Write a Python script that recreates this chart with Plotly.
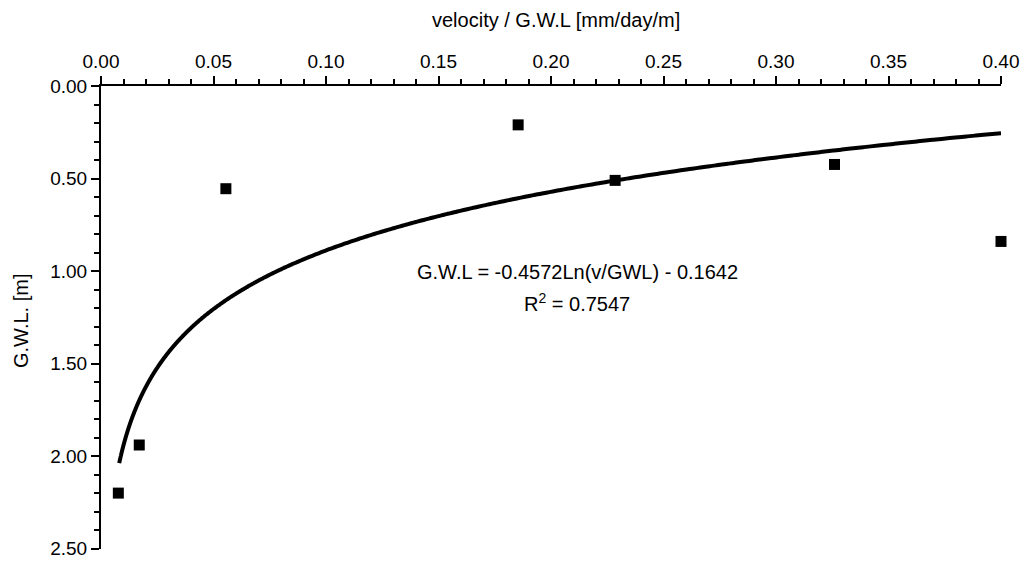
import numpy as np
import plotly.graph_objects as go

# Observed points: velocity / groundwater level vs groundwater level
velocity_ratio = [0.0077, 0.017, 0.0555, 0.1854, 0.2285, 0.326, 0.400]
gwl = [2.20, 1.94, 0.555, 0.21, 0.51, 0.424, 0.84]

# Logarithmic trend line: G.W.L = a*ln(v/GWL) + b
fit_a = -0.4572
fit_b = -0.1642
fit_r2 = 0.7547
fit_x_start = 0.0081
fit_x_end = 0.40

x_ticks = [0.00, 0.05, 0.10, 0.15, 0.20, 0.25, 0.30, 0.35, 0.40]
y_ticks = [0.00, 0.50, 1.00, 1.50, 2.00, 2.50]

fit_x = np.geomspace(fit_x_start, fit_x_end, 400)
fit_y = fit_a * np.log(fit_x) + fit_b

FONT = "Liberation Sans, Arial, sans-serif"

# plot area in pixels
L, R, T, B = 101, 1001, 86, 549
PW, PH = R - L, B - T


def px(x):
    return (x - L) / PW


def py(y):
    return 1 - (y - T) / PH


fig = go.Figure()
fig.add_trace(go.Scatter(
    x=fit_x, y=fit_y, mode="lines",
    line=dict(color="black", width=4, simplify=False, shape="spline"),
    showlegend=False, hoverinfo="skip",
))
fig.add_trace(go.Scatter(
    x=velocity_ratio, y=gwl, mode="markers",
    marker=dict(symbol="square", size=11, color="black"),
    showlegend=False, cliponaxis=False,
))

axis_common = dict(
    showline=True, linecolor="black", linewidth=2, mirror=False,
    ticks="outside", ticklen=8, tickwidth=2, tickcolor="black",
    showgrid=False, zeroline=False, tickformat=".2f",
    tickfont=dict(size=19), ticklabeloverflow="allow", automargin=False,
)

fig.update_layout(
    width=1035, height=561,
    margin=dict(l=L, r=1035 - R, t=T, b=561 - B, autoexpand=False),
    paper_bgcolor="white", plot_bgcolor="white",
    font=dict(family=FONT, size=19, color="black"),
    xaxis=dict(
        side="top", range=[0, 0.40], tickvals=x_ticks,
        minor=dict(dtick=0.01, ticks="outside", ticklen=5, tickwidth=2, tickcolor="black"),
        **axis_common,
    ),
    yaxis=dict(
        range=[2.502, 0], tickvals=y_ticks,
        minor=dict(dtick=0.1, ticks="outside", ticklen=5, tickwidth=2, tickcolor="black"),
        **axis_common,
    ),
    annotations=[
        dict(text="velocity / G.W.L [mm/day/m]", xref="paper", yref="paper",
             x=px(556), y=py(20), showarrow=False,
             xanchor="center", yanchor="middle", font=dict(size=20)),
        dict(text="G.W.L. [m]", xref="paper", yref="paper", textangle=-90,
             x=px(21), y=py(321), showarrow=False,
             xanchor="center", yanchor="middle", font=dict(size=20)),
        dict(text=f"G.W.L = {fit_a:.4f}Ln(v/GWL) - {abs(fit_b):.4f}",
             xref="paper", yref="paper", x=px(577), y=py(272),
             showarrow=False, xanchor="center", yanchor="middle", font=dict(size=20)),
        dict(text=f"R<sup>2</sup> = {fit_r2:.4f}",
             xref="paper", yref="paper", x=px(577), y=py(302),
             showarrow=False, xanchor="center", yanchor="middle", font=dict(size=20)),
    ],
)

fig.write_html("out.html")
